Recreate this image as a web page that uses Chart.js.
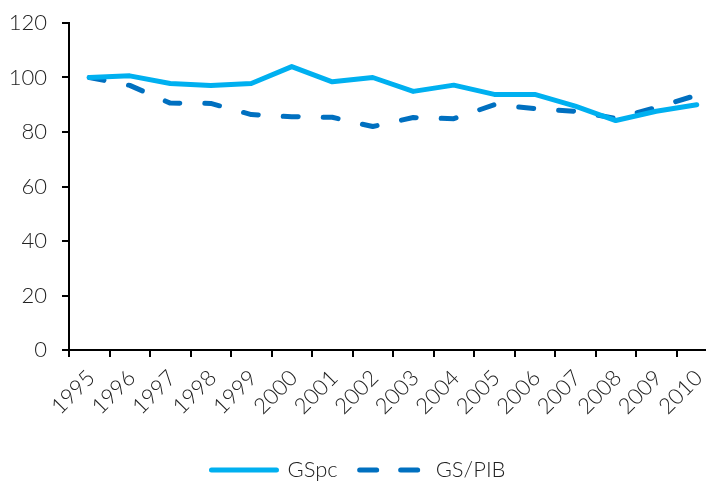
<!DOCTYPE html>
<html>
<head>
<meta charset="utf-8">
<script src="https://cdn.jsdelivr.net/npm/chart.js@4/dist/chart.umd.min.js"></script>
<style>
  html, body { margin: 0; padding: 0; background: #fff; overflow: hidden; }
  #wrap { width: 720px; height: 491px; }
</style>
</head>
<body>
<div id="wrap"><canvas id="c" width="720" height="491"></canvas></div>
<script>
// Index series, 1995 = 100
const years = ['1995','1996','1997','1998','1999','2000','2001','2002','2003','2004','2005','2006','2007','2008','2009','2010'];
const gspc  = [100, 100.6, 97.8, 97.1, 97.8, 104.0, 98.4, 100.0, 94.9, 97.2, 93.8, 93.8, 89.5, 84.2, 87.6, 90.0];
const gsPib = [100, 97.1, 90.6, 90.5, 86.4, 85.6, 85.4, 82.0, 85.3, 84.9, 90.0, 88.6, 87.6, 85.0, 89.0, 93.5];
const yTicks = [0, 20, 40, 60, 80, 100, 120];

const FONT = 'Lato, "Open Sans", "DejaVu Sans", sans-serif';
const TEXT = '#222';
const FONT_SIZE = 22;

// legend dashes are a little longer than the plotted ones
const legendDash = [[], [17, 24]];

new Chart(document.getElementById('c'), {
  type: 'line',
  data: {
    labels: years,
    datasets: [
      {
        label: 'GSpc',
        data: gspc,
        borderColor: '#00B0F0',
        backgroundColor: '#00B0F0',
        borderWidth: 5,
        borderCapStyle: 'round',
        borderJoinStyle: 'round',
        pointRadius: 0,
        tension: 0,
        fill: false
      },
      {
        label: 'GS/PIB',
        data: gsPib,
        borderColor: '#0070C0',
        backgroundColor: '#0070C0',
        borderWidth: 5,
        borderDash: [15, 25],
        borderCapStyle: 'round',
        borderJoinStyle: 'round',
        pointRadius: 0,
        tension: 0,
        fill: false
      }
    ]
  },
  options: {
    responsive: false,
    animation: false,
    layout: { padding: { top: 23, right: 3, left: 0, bottom: 0 } },
    plugins: {
      legend: {
        position: 'bottom',
        labels: {
          usePointStyle: true,
          pointStyleWidth: 65,
          boxHeight: 5,
          padding: 22,
          color: TEXT,
          font: { family: FONT, size: FONT_SIZE, weight: '300' },
          generateLabels: chart => chart.data.datasets.map((ds, i) => ({
            text: ds.label,
            fillStyle: ds.borderColor,
            strokeStyle: ds.borderColor,
            lineWidth: 5,
            lineDash: legendDash[i],
            lineCap: 'round',
            pointStyle: 'line',
            hidden: false,
            datasetIndex: i,
            fontColor: TEXT
          }))
        }
      },
      tooltip: { enabled: false }
    },
    scales: {
      x: {
        type: 'category',
        offset: true,
        grid: { display: true, offset: true, drawOnChartArea: false, drawTicks: true, tickLength: 7, color: '#000', lineWidth: 2 },
        border: { display: true, color: '#000', width: 2 },
        ticks: {
          autoSkip: false,
          minRotation: 45,
          maxRotation: 45,
          padding: 8,
          labelOffset: 2,
          color: TEXT,
          font: { family: FONT, size: FONT_SIZE, weight: '300' }
        },
        afterFit: s => { s.height = 87; s.paddingLeft = 0; s.paddingRight = 0; }
      },
      y: {
        min: 0,
        max: 120,
        afterBuildTicks: s => { s.ticks = yTicks.map(v => ({ value: v })); },
        grid: { display: true, drawOnChartArea: false, drawTicks: true, tickLength: 7, color: '#000', lineWidth: 2 },
        border: { display: true, color: '#000', width: 2 },
        ticks: {
          padding: 15,
          color: TEXT,
          font: { family: FONT, size: FONT_SIZE, weight: '300' }
        },
        afterFit: s => { s.width = 69; s.paddingTop = 0; s.paddingBottom = 0; }
      }
    }
  }
});
</script>
</body>
</html>
